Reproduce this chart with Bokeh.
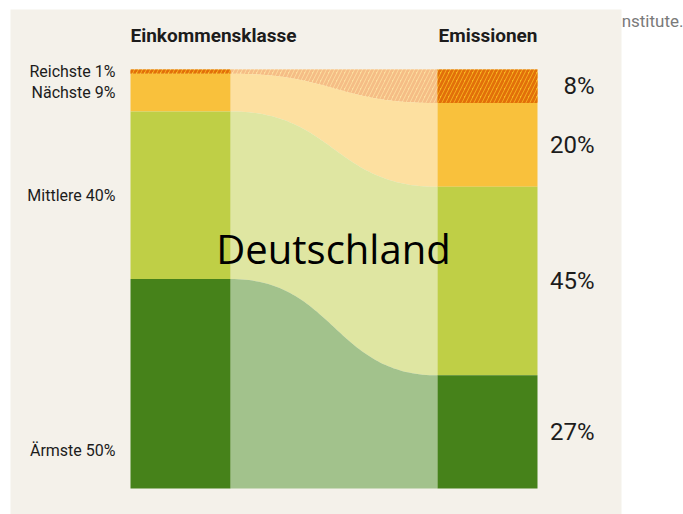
import numpy as np
from bokeh.plotting import figure
from bokeh.models import Range1d
from bokeh.embed import file_html
from bokeh.resources import INLINE
from bokeh.core.properties import value

# ---- data ----
income_groups = ["Reichste 1%", "Nächste 9%", "Mittlere 40%", "Ärmste 50%"]
income_share = [1, 9, 40, 50]
emission_share = [8, 20, 45, 27]
emission_labels = ["8%", "20%", "45%", "27%"]
income_label_pos = [0.5, 5.5, 30, 91]   # where the left labels sit (percent scale)
country = "Deutschland"
col_titles = ["Einkommensklasse", "Emissionen"]
source_text = "Institute."

# ---- styles ----
bar_colors = ["#f9b920", "#f9c13c", "#bfcf46", "#46821a"]
flow_colors = ["#fde0a0", "#fde0a0", "#dfe6a2", "#a2c28c"]
bar_hatch = ["#e2700a", None, None, None]
flow_hatch = ["#f5bd86", None, None, None]
BG = "#f4f1ea"
TXT = "#1c1c1c"

PX = 4.19      # pixels per percent
TOP = 69       # page y of 0%
W, H = 683, 514

def pct(page_y):
    return (page_y - TOP) / PX

p = figure(width=W, height=H, output_backend="svg", toolbar_location=None,
           x_range=Range1d(0, W), y_range=Range1d(pct(H), pct(0)),
           min_border=0)
p.axis.visible = False
p.grid.visible = False
p.outline_line_color = None
p.background_fill_color = "white"
p.border_fill_color = "white"

# source text partly hidden behind panel
p.text(x=[683], y=[pct(20)], text=[source_text], text_align="right",
       text_baseline="alphabetic", text_font=value("Roboto"),
       text_font_size="17px", text_color="#7a7a7a")

# panel
p.quad(left=[10], right=[621], top=[pct(9)], bottom=[pct(514)],
       fill_color=BG, line_color=None)

# cumulative positions
inc_top = np.concatenate([[0], np.cumsum(income_share)[:-1]])
inc_bot = np.cumsum(income_share)
em_top = np.concatenate([[0], np.cumsum(emission_share)[:-1]])
em_bot = np.cumsum(emission_share)

LX0, LX1 = 130, 230
RX0, RX1 = 437, 537

# flows
t = np.linspace(0, 1, 80)
mid = (LX1 + RX0) / 2
xs = (1 - t) ** 3 * LX1 + 3 * (1 - t) ** 2 * t * mid + 3 * (1 - t) * t ** 2 * mid + t ** 3 * RX0
s = 3 * t ** 2 * (1 - t) + t ** 3
for i in range(len(income_share)):
    y1 = inc_top[i] + (em_top[i] - inc_top[i]) * s
    y2 = inc_bot[i] + (em_bot[i] - inc_bot[i]) * s
    kw = {}
    if flow_hatch[i]:
        kw = dict(hatch_pattern="/", hatch_color=flow_hatch[i], hatch_scale=8, hatch_weight=2.8)
    p.varea(x=xs, y1=y1, y2=y2, fill_color=flow_colors[i], **kw)

# bars
for i in range(len(income_share)):
    kw = {}
    if bar_hatch[i]:
        kw = dict(hatch_pattern="/", hatch_color=bar_hatch[i], hatch_scale=8, hatch_weight=2.8)
    p.quad(left=[LX0], right=[LX1], top=[inc_top[i]], bottom=[inc_bot[i]],
           fill_color=bar_colors[i], line_color=None, **kw)
    p.quad(left=[RX0], right=[RX1], top=[em_top[i]], bottom=[em_bot[i]],
           fill_color=bar_colors[i], line_color=None, **kw)

# left labels
p.text(x=[115] * 4, y=income_label_pos, text=income_groups, text_align="right",
       text_baseline="middle", text_font=value("Roboto"), text_font_size="16px",
       text_color=TXT)

# right labels
em_mid = (em_top + em_bot) / 2
p.text(x=[594] * 4, y=list(em_mid), text=emission_labels, text_align="right",
       text_baseline="middle", text_font=value("Roboto"), text_font_size="24px",
       text_color=TXT)

# column titles
p.text(x=[LX0, RX0 + 1], y=[pct(35)] * 2, text=col_titles, text_align="left",
       text_baseline="middle", text_font=value("Roboto"), text_font_size="19px",
       text_font_style="bold", text_color=TXT)

# country
p.text(x=[333], y=[pct(248)], text=[country], text_align="center",
       text_baseline="middle", text_font=value("Open Sans"), text_font_size="40px",
       text_color="#000000")

open("out.html", "w").write(file_html(p, INLINE))
